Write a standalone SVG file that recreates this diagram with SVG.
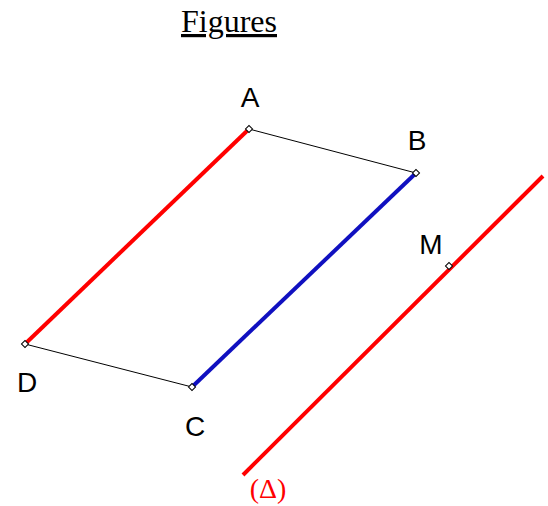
<svg xmlns="http://www.w3.org/2000/svg" width="548" height="506" viewBox="0 0 548 506">
<style>
.lbl{font-family:"Liberation Sans",Arial,sans-serif;font-size:28px;fill:#000;text-anchor:middle}
.thin{stroke:#000;stroke-width:1;fill:none}
.red{stroke:#ff0000;stroke-width:4;fill:none}
.blue{stroke:#1010c0;stroke-width:4;fill:none}
.pt{fill:#fff;stroke:#000;stroke-width:1}
</style>
<rect width="548" height="506" fill="#fff"/>
<text x="229" y="32" font-family="Liberation Serif,'Times New Roman',serif" font-size="32" text-anchor="middle" text-decoration="underline">Figures</text>
<g id="connectors">
<line class="thin" x1="249" y1="129" x2="416" y2="173"/>
<line class="thin" x1="25" y1="344" x2="192" y2="387"/>
<line class="red" x1="25" y1="344" x2="249" y2="129"/>
<line class="blue" x1="192" y1="387" x2="416" y2="173"/>
<line class="red" x1="243" y1="475" x2="543" y2="176"/>
</g>
<g id="A"><rect class="pt" x="246.5" y="126.5" width="5" height="5" transform="rotate(45 249 129)"/><text class="lbl" x="250" y="107">A</text></g>
<g id="B"><rect class="pt" x="413.5" y="170.5" width="5" height="5" transform="rotate(45 416 173)"/><text class="lbl" x="417" y="150">B</text></g>
<g id="C"><rect class="pt" x="189.5" y="384.5" width="5" height="5" transform="rotate(45 192 387)"/><text class="lbl" x="195" y="436">C</text></g>
<g id="D"><rect class="pt" x="22.5" y="341.5" width="5" height="5" transform="rotate(45 25 344)"/><text class="lbl" x="27" y="392">D</text></g>
<g id="M"><rect class="pt" x="446.5" y="263.5" width="5" height="5" transform="rotate(45 449 266)"/><text class="lbl" x="431" y="254">M</text></g>
<g id="Delta"><text x="268" y="498" font-family="Liberation Serif,'Times New Roman',serif" font-size="28" fill="#ff0000" text-anchor="middle">(Δ)</text></g>
</svg>
